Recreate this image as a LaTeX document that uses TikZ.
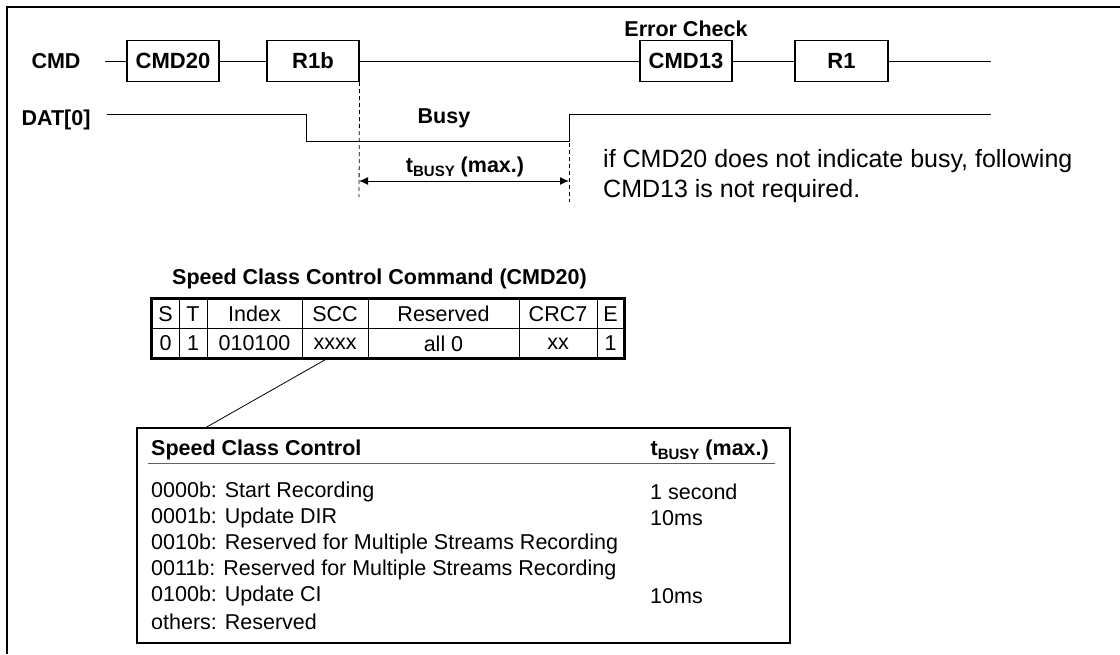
\documentclass[tikz,border=0pt]{standalone}
\usepackage{fontspec}
\setmainfont{Liberation Sans}
\usetikzlibrary{arrows.meta,positioning}
\definecolor{ruleGray}{HTML}{606060}
\newcommand{\tbusy}{t\raisebox{-4pt}{\fontsize{15}{15}\selectfont BUSY}}
\tikzset{
  siglabel/.style={inner sep=0pt, font=\fontsize{21.5}{26}\selectfont\bfseries},
  pktbox/.style={
    rectangle, draw, line width=1.2pt, minimum width=92pt, minimum height=41pt,
    inner sep=0pt, font=\fontsize{22}{26}\selectfont\bfseries,
  },
  wire/.style={line width=1pt},
  cell/.style={
    rectangle, draw, line width=0.9pt, minimum height=29.5pt, inner sep=0pt,
    font=\fontsize{21.5}{26}\selectfont,
  },
  rowtext/.style={inner sep=0pt, font=\fontsize{21.5}{26}\selectfont},
  notetext/.style={inner sep=0pt, align=left, font=\fontsize{25}{30}\selectfont},
  arrowBusy/.style={
    {Latex[length=9pt,width=8pt]}-{Latex[length=9pt,width=8pt]}, line width=1pt,
  },
  guide/.style={line width=0.8pt, dash pattern=on 4pt off 3pt},
}

\begin{document}
\begin{tikzpicture}[x=1pt, y=-1pt]
\useasboundingbox (0,0) rectangle (1120,654);
\draw[line width=1.2pt] (7,654) -- (7,7) -- (1120,7);

% CMD line
\node[siglabel] (cmd) at (56,61) {CMD};
\node[pktbox] (cmd20) at (173,61) {CMD20};
\node[pktbox] (r1b) at (313,61) {R1b};
\node[pktbox] (cmd13) at (686,61) {CMD13};
\node[pktbox, minimum width=93pt] (r1) at (841.5,61) {R1};
\node[siglabel, above=3pt of cmd13] (errchk) {Error Check};
\coordinate (cmdstart) at (105,61);
\coordinate (cmdend) at (991,61);
\draw[wire] (cmdstart) -- (cmd20) -- (r1b) -- (cmd13) -- (r1) -- (cmdend);

% DAT[0] line
\node[siglabel] (dat) at (56,120) {DAT[0]};
\coordinate (datstart) at (107,114);
\coordinate (busyfall) at (306,114);
\coordinate (busyrise) at (569,141);
\coordinate (datend) at (991,114);
\draw[wire] (datstart) -- (busyfall) -- ++(0,27) -- (busyrise) -- ++(0,-27) -- (datend);
\node[siglabel] (busy) at (444,118) {Busy};

% busy time
\coordinate (g1end) at (359,197);
\coordinate (g2top) at (569,143);
\coordinate (g2end) at (569,202);
\draw[guide] (r1b.south east) -- (g1end);
\draw[guide] (g2top) -- (g2end);
\coordinate (tb1) at (359,181);
\coordinate (tb2) at (569,181);
\draw[arrowBusy] (tb1) -- (tb2);
\node[siglabel] (tbusylbl) at (465,167) {\tbusy{} (max.)};

\node[notetext, anchor=north west] (note) at (603,149)
  {if CMD20 does not indicate busy, following\\CMD13 is not required.};

% CMD20 format
\node[siglabel, anchor=west] (cmdtitle) at (172,279) {Speed Class Control Command (CMD20)};
\foreach \xa/\xb/\hd/\vl [count=\i] in {152/179/S/0, 179/207/T/1, 207/302/Index/010100,
    302/368/SCC/xxxx, 368/519/Reserved/all 0, 519/597/CRC7/xx, 597/624/E/1}
{
  \pgfmathsetmacro{\cw}{\xb-\xa}
  \node[cell, minimum width=\cw pt] (hd\i) at ({(\xa+\xb)/2},314) {\hd};
  \node[cell, minimum width=\cw pt] (vl\i) at ({(\xa+\xb)/2},343.5) {\vl};
}
\draw[line width=3pt] (hd1.north west) rectangle (vl7.south east);

% speed class control table
\node[draw, line width=1.2pt, minimum width=653pt, minimum height=215pt] (sccbox) at (463.5,535.5) {};
\node[siglabel, anchor=west] (scchead) at (151,450) {Speed Class Control};
\node[siglabel, anchor=east] (tbusyhead) at (769,450) {\tbusy{} (max.)};
\coordinate (rulel) at (148,463);
\coordinate (ruler) at (775,463);
\draw[line width=1pt, ruleGray] (rulel) -- (ruler);
\foreach \desc [count=\i] in {0000b: Start Recording, 0001b: Update DIR,
    0010b: Reserved for Multiple Streams Recording,
    0011b: Reserved for Multiple Streams Recording, 0100b: Update CI, others: Reserved}
  \node[rowtext, anchor=west] (desc\i) at (151,466+26*\i) {\desc};
\foreach \i/\tmax in {1/1 second, 2/10ms, 5/10ms}
  \node[rowtext, anchor=west] (tmax\i) at (650,466+26*\i) {\tmax};

\coordinate (sccpin) at (205,428);
\draw[line width=0.8pt] ([xshift=-8pt]vl4.south) -- (sccpin);
\end{tikzpicture}
\end{document}
